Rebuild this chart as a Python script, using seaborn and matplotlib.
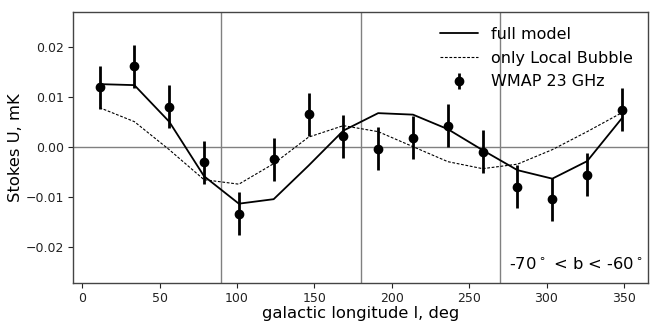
import matplotlib
matplotlib.use("Agg")
import matplotlib.pyplot as plt
import seaborn as sns
import numpy as np
import pandas as pd

sns.set_style("ticks")
plt.rcParams['font.family'] = ['DejaVu Sans']
plt.rcParams['text.color'] = 'black'
plt.rcParams['axes.labelcolor'] = 'black'

longitude = [11.25, 33.75, 56.25, 78.75, 101.25, 123.75, 146.25, 168.75,
             191.25, 213.75, 236.25, 258.75, 281.25, 303.75, 326.25, 348.75]
wmap_u = [0.0120, 0.0162, 0.0081, -0.0030, -0.0133, -0.0024, 0.0066, 0.0022,
          -0.0003, 0.0019, 0.0043, -0.0009, -0.0079, -0.0104, -0.0055, 0.0075]
wmap_err = [0.0043] * 16
full_model = [0.0126, 0.0124, 0.0051, -0.0058, -0.0113, -0.0104, -0.0037, 0.0033,
              0.0068, 0.0065, 0.0036, -0.0006, -0.0046, -0.0063, -0.0028, 0.0058]
local_bubble = [0.0079, 0.0051, -0.0005, -0.0065, -0.0074, -0.0033, 0.0020, 0.0043,
                0.0031, 0.0001, -0.0029, -0.0043, -0.0034, -0.0005, 0.0031, 0.0069]

df = pd.DataFrame({"l": longitude, "full": full_model, "lb": local_bubble,
                   "u": wmap_u, "err": wmap_err})

fig = plt.figure(figsize=(6.5, 3.22), dpi=100)
ax = fig.add_axes([0.113, 0.122, 0.884, 0.842])

ax.axhline(0, color="gray", lw=1.0, zorder=1)
for xv in [90, 180, 270]:
    ax.axvline(xv, color="gray", lw=1.0, zorder=1)

sns.lineplot(data=df, x="l", y="full", ax=ax, color="black", lw=1.3,
             label="full model", zorder=3)
sns.lineplot(data=df, x="l", y="lb", ax=ax, color="black", lw=0.8,
             linestyle=(0, (2.5, 1.5)), label="only Local Bubble", zorder=3)
ax.errorbar(df["l"], df["u"], yerr=df["err"], fmt="o", color="black",
            ms=6, elinewidth=2, capsize=0, label="WMAP 23 GHz", zorder=4)

ax.set_xlim(-5.6, 365.6)
ax.set_ylim(-0.0271, 0.0271)
ax.set_xticks([0, 50, 100, 150, 200, 250, 300, 350])
ax.set_yticks([-0.02, -0.01, 0.0, 0.01, 0.02])
ax.set_yticklabels(["\u22120.02", "\u22120.01", "0.00", "0.01", "0.02"])
ax.tick_params(labelsize=9, direction="out", length=3.5, width=0.8, colors="#222222", pad=3)
for s in ax.spines.values():
    s.set_color("#444444")
    s.set_linewidth(1.0)

ax.set_xlabel("galactic longitude l, deg", fontsize=11.8, labelpad=1)
ax.set_ylabel("Stokes U, mK", fontsize=11.8, labelpad=2)

ax.text(0.992, 0.04, "-70$^\\circ$ < b < -60$^\\circ$", transform=ax.transAxes,
        ha="right", va="bottom", fontsize=11.8)

leg = ax.legend(loc="upper right", frameon=False, fontsize=11.5, handlelength=2.4,
                borderaxespad=0.55, labelspacing=0.55)
for t in leg.get_texts():
    t.set_color("black")

fig.savefig("out.png", dpi=100)
